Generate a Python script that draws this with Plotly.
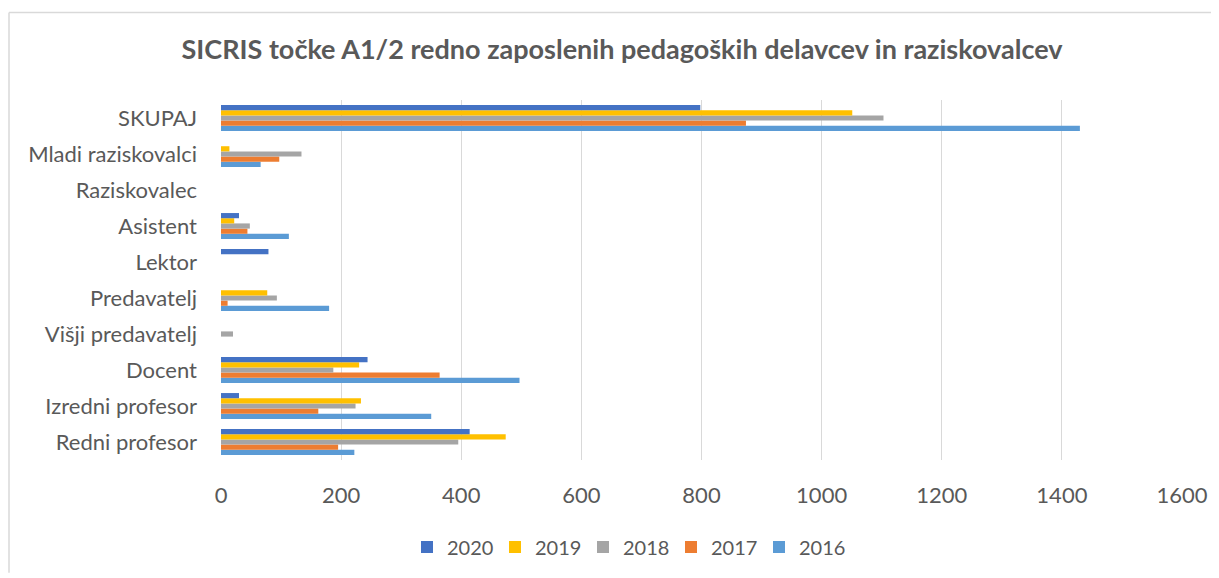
import plotly.graph_objects as go

categories = ["Redni profesor", "Izredni profesor", "Docent", "Višji predavatelj",
              "Predavatelj", "Lektor", "Asistent", "Raziskovalec",
              "Mladi raziskovalci", "SKUPAJ"]

v2016 = [222, 350, 497, 0, 180, 0, 113, 0, 66, 1430]
v2017 = [195, 162, 364, 0, 11, 0, 44, 0, 97, 874]
v2018 = [395, 224, 187, 20, 93, 0, 48, 0, 134, 1103]
v2019 = [474, 233, 230, 0, 77, 0, 22, 0, 14, 1051]
v2020 = [414, 30, 244, 0, 0, 79, 30, 0, 0, 798]

series = [("2016", v2016, "#5B9BD5"), ("2017", v2017, "#ED7D31"),
          ("2018", v2018, "#A5A5A5"), ("2019", v2019, "#FFC000"),
          ("2020", v2020, "#4472C4")]

FONT = "Lato"
GRAY = "#595959"

W, H = 1211, 570
L, R, T, B = 213, 37, 92, 114
PW, PH = W - L - R, H - T - B

fig = go.Figure()
for name, vals, col in series:
    fig.add_trace(go.Bar(y=categories, x=vals, name=name, orientation="h",
                         marker=dict(color=col, line=dict(width=0))))

fig.update_layout(
    width=W, height=H,
    margin=dict(l=L, r=R, t=T, b=B),
    paper_bgcolor="white", plot_bgcolor="white",
    barmode="group", bargap=0.28, bargroupgap=0,
    font=dict(family=FONT, size=22, color=GRAY),
    title=dict(text="<b>SICRIS točke A1/2 redno zaposlenih pedagoških delavcev in raziskovalcev</b>",
               x=614/W, xanchor="center", y=1-42/H, yanchor="middle",
               font=dict(family=FONT, size=27, color=GRAY)),
    legend=dict(orientation="h", traceorder="reversed", x=(619-L)/PW, xanchor="center",
                y=(PH+T-544)/PH, yanchor="middle", entrywidth=43,
                font=dict(size=20, color=GRAY)),
    showlegend=True,
)
fig.update_xaxes(range=[0, 1600], dtick=200, showgrid=True, gridcolor="#D9D9D9",
                 gridwidth=1, zeroline=False, showline=False, ticks="",
                 ticklabelstandoff=20, tickfont=dict(size=22, color=GRAY))
fig.update_yaxes(showgrid=False, showline=False, ticks="", ticklabelstandoff=23,
                 tickfont=dict(size=22, color=GRAY))

ytop = (PH + T - 3.5) / PH
xleft = (1 - L) / PW
fig.add_shape(type="line", xref="paper", yref="paper",
              x0=xleft, x1=(W - L) / PW, y0=ytop, y1=ytop,
              line=dict(color="#D9D9D9", width=1.5))
fig.add_shape(type="line", xref="paper", yref="paper",
              x0=xleft, x1=xleft, y0=ytop, y1=(PH + T - H) / PH,
              line=dict(color="#D9D9D9", width=1.5))

fig.write_html("out.html")
